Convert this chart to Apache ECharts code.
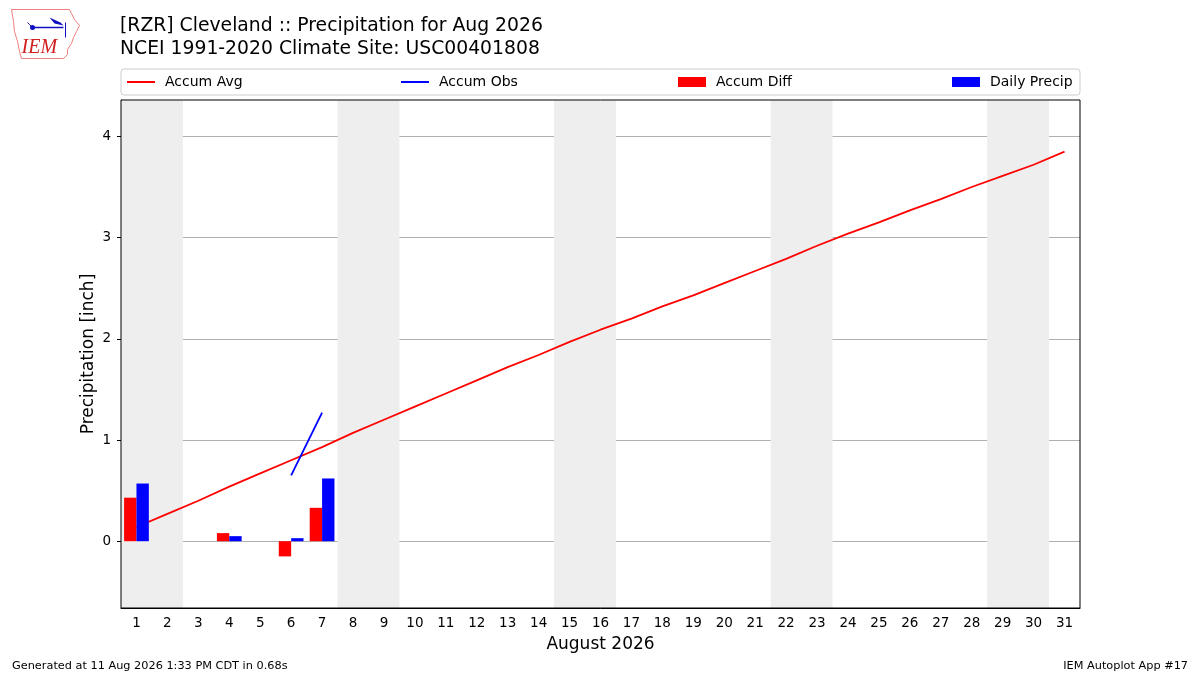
<!DOCTYPE html>
<html>
<head>
    <meta charset="utf-8">
    <title>ECharts</title>
    <script src="https://cdn.jsdelivr.net/npm/echarts@6/dist/echarts.min.js"></script>
    <style>
        html, body { margin: 0; padding: 0; background: #fff; }
    </style>
</head>
<body>
    <div id="main" style="width: 1200px;height:675px;"></div>
    <script type="text/javascript">
        // data
        var days = [];
        for (var d = 1; d <= 31; d++) { days.push(String(d)); }
        var accumAvg = [0.14, 0.27, 0.40, 0.54, 0.67, 0.80, 0.93, 1.07, 1.20, 1.33,
            1.46, 1.59, 1.72, 1.84, 1.97, 2.09, 2.20, 2.32, 2.43, 2.55,
            2.67, 2.79, 2.92, 3.04, 3.15, 3.27, 3.38, 3.50, 3.61, 3.72, 3.85];
        var accumObs = [null, null, null, null, null, 0.65, 1.27];
        var accumDiff = [0.43, null, null, 0.08, null, -0.15, 0.33];
        var dailyPrecip = [0.57, null, null, 0.05, null, 0.03, 0.62];
        var weekendStarts = [1, 8, 15, 22, 29]; // Sat of each weekend
        var yTicks = [0, 1, 2, 3, 4];

        var font = 'DejaVu Sans';
        var myChart = echarts.init(document.getElementById('main'));

        var bands = weekendStarts.map(function (s) {
            return [{ xAxis: s - 0.5 }, { xAxis: s + 1.5 }];
        });

        function legendAt(left, name, h) {
            return {
                left: left, top: 75, padding: 0, z: 10,
                itemWidth: 28, itemHeight: h, icon: 'rect',
                data: [name],
                selectedMode: false,
                textStyle: { fontFamily: font, fontSize: 14, color: '#000', padding: [0, 0, 0, 5] }
            };
        }

        var option = {
            animation: false,
            backgroundColor: '#fff',
            textStyle: { fontFamily: font },
            title: [{
                text: '[RZR] Cleveland :: Precipitation for Aug 2026\nNCEI 1991-2020 Climate Site: USC00401808',
                left: 120, top: 15, padding: 0,
                textStyle: { fontFamily: font, fontSize: 18.8, fontWeight: 'normal', color: '#000', lineHeight: 23 }
            }, {
                text: 'Generated at 11 Aug 2026 1:33 PM CDT in 0.68s',
                left: 12, top: 661, padding: 0,
                textStyle: { fontFamily: font, fontSize: 11.3, fontWeight: 'normal', color: '#000' }
            }, {
                text: 'IEM Autoplot App #17',
                right: 12, top: 661, padding: 0,
                textStyle: { fontFamily: font, fontSize: 11.3, fontWeight: 'normal', color: '#000' }
            }],
            legend: [
                legendAt(127, 'Accum Avg', 2),
                legendAt(401, 'Accum Obs', 2),
                legendAt(678, 'Accum Diff', 10),
                legendAt(952, 'Daily Precip', 10)
            ],
            grid: { left: 121, right: 120, top: 100, bottom: 67 },
            xAxis: [{
                type: 'category',
                data: days,
                boundaryGap: true,
                name: 'August 2026',
                nameLocation: 'middle',
                nameGap: 28,
                nameTextStyle: { fontFamily: font, fontSize: 17, color: '#000' },
                axisLine: { onZero: false, lineStyle: { color: '#000' } },
                axisTick: { alignWithLabel: true, length: 4, lineStyle: { color: '#000' } },
                axisLabel: { fontFamily: font, fontSize: 13.5, color: '#000', margin: 8, interval: 0 },
                splitLine: { show: false }
            }, {
                type: 'value',
                min: 0.5, max: 31.5,
                show: false
            }],
            yAxis: {
                type: 'value',
                min: -0.66, max: 4.36,
                name: 'Precipitation [inch]',
                nameLocation: 'middle',
                nameGap: 24,
                nameMoveOverlap: false,
                nameTextStyle: { fontFamily: font, fontSize: 17, color: '#000' },
                axisLine: { show: true, lineStyle: { color: '#000' } },
                axisTick: { show: true, length: 4, lineStyle: { color: '#000' } },
                axisLabel: {
                    fontFamily: font, fontSize: 13.5, color: '#000', margin: 10,
                    showMinLabel: false, showMaxLabel: false,
                    formatter: function (v) { return yTicks.indexOf(v) >= 0 ? String(v) : ''; }
                },
                splitLine: { show: true, showMinLine: false, showMaxLine: false, lineStyle: { color: '#b0b0b0', width: 1 } }
            },
            series: [{
                name: 'weekends',
                type: 'line',
                xAxisIndex: 1,
                data: [],
                silent: true,
                markArea: { silent: true, itemStyle: { color: '#eeeeee' }, data: bands },
                z: 0
            }, {
                name: 'Accum Avg',
                type: 'line',
                data: accumAvg,
                symbol: 'none',
                itemStyle: { color: '#ff0000' },
                lineStyle: { color: '#ff0000', width: 1.8 },
                z: 2
            }, {
                name: 'Accum Obs',
                type: 'line',
                data: accumObs,
                symbol: 'none',
                connectNulls: false,
                itemStyle: { color: '#0000ff' },
                lineStyle: { color: '#0000ff', width: 1.8 },
                z: 2
            }, {
                name: 'Accum Diff',
                type: 'bar',
                data: accumDiff,
                barWidth: '40%',
                barGap: '0%',
                itemStyle: { color: '#ff0000' },
                z: 3
            }, {
                name: 'Daily Precip',
                type: 'bar',
                data: dailyPrecip,
                barWidth: '40%',
                barGap: '0%',
                itemStyle: { color: '#0000ff' },
                z: 3
            }],
            graphic: [{
                // plot frame
                type: 'rect', z: 100, silent: true,
                shape: { x: 121, y: 100, width: 959, height: 508 },
                style: { fill: 'none', stroke: '#000', lineWidth: 1 }
            }, {
                // legend box
                type: 'rect', z: 0, silent: true,
                shape: { x: 121, y: 69, width: 959, height: 26, r: 3 },
                style: { fill: '#fff', stroke: '#cccccc', lineWidth: 1 }
            }, {
                // IEM logo
                type: 'group', left: 9, top: 7, silent: true,
                children: [{
                    type: 'polyline',
                    shape: { points: [[1, 1], [59, 1], [61, 5], [64, 11], [69, 17], [66, 23], [63, 29], [61, 35], [57, 41], [57, 46], [53, 50], [11, 50], [9, 43], [7, 33], [4, 23], [3, 13], [1, 1]] },
                    style: { fill: 'none', stroke: '#f08080', lineWidth: 1 }
                }, {
                    type: 'circle', shape: { cx: 22, cy: 19, r: 2.5 }, style: { fill: '#1010c0' }
                }, {
                    type: 'line', shape: { x1: 22, y1: 19, x2: 53, y2: 19 }, style: { stroke: '#1010c0', lineWidth: 1.5 }
                }, {
                    type: 'polygon', shape: { points: [[39, 9], [50, 14], [53, 17], [44, 15]] }, style: { fill: '#1010c0' }
                }, {
                    type: 'line', shape: { x1: 55, y1: 14, x2: 55, y2: 29 }, style: { stroke: '#1010c0', lineWidth: 1 }
                }, {
                    type: 'polyline', shape: { points: [[17, 14], [19, 16], [22, 19]] }, style: { stroke: '#1010c0', lineWidth: 1, fill: 'none' }
                }, {
                    type: 'text', x: 11, y: 29,
                    style: { text: 'IEM', fill: '#d02020', font: 'italic 20px "Liberation Serif", serif' }
                }]
            }]
        };

        myChart.setOption(option);
    </script>
</body>
</html>
